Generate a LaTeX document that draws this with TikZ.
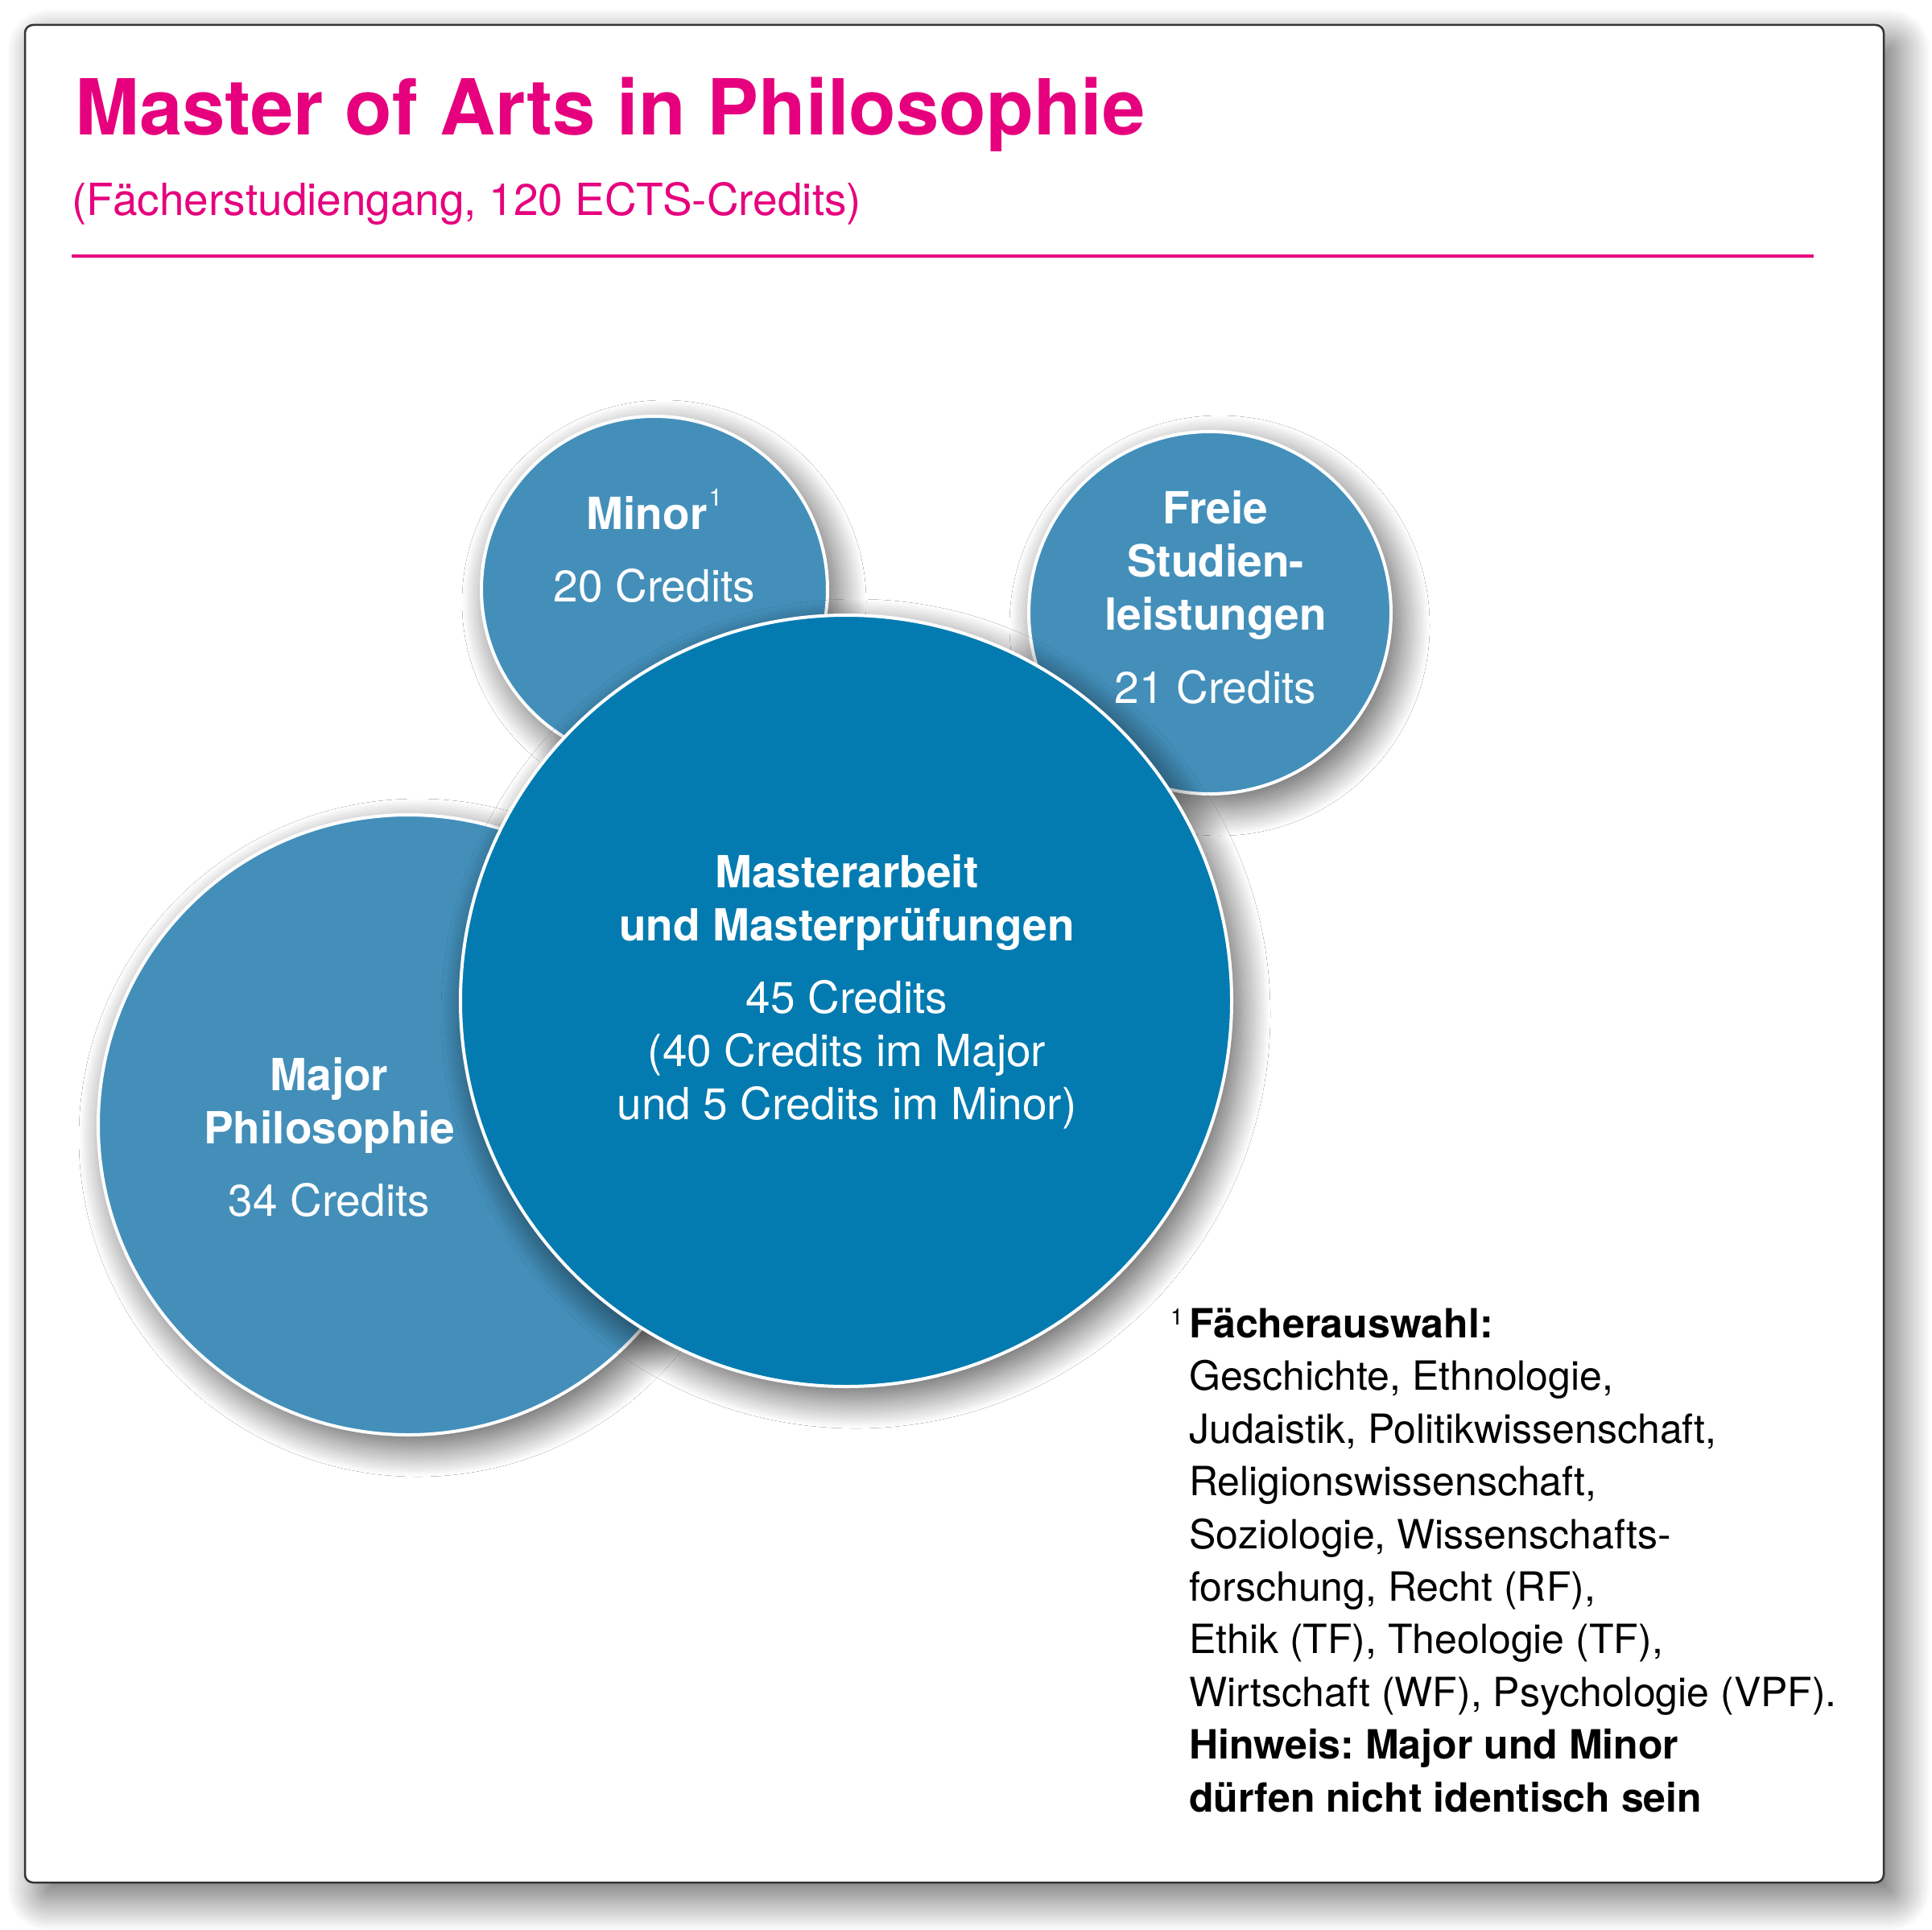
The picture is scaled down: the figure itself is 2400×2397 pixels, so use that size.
\documentclass[tikz,border=0pt]{standalone}
\usepackage{fontspec}
\setmainfont{TeX Gyre Heros}
\usepackage{tikz}
\usetikzlibrary{shadows.blur}
\definecolor{titlepink}{HTML}{E6007E}
\definecolor{bluelight}{HTML}{438FBA}
\definecolor{bluedark}{HTML}{037BB0}
\frenchspacing

\begin{document}
\begin{tikzpicture}[x=1pt, y=-1pt,
	bubble/.style={circle, draw=white, line width=4pt, inner sep=0pt,
		blur shadow={shadow xshift=12pt, shadow yshift=-16pt, shadow blur radius=36pt, shadow blur steps=40, shadow opacity=65}},
	boldtxt/.style={text=white, align=center, inner sep=0pt, anchor=base, font=\fontsize{55}{66}\selectfont\bfseries},
	credtxt/.style={text=white, align=center, inner sep=0pt, anchor=base, font=\fontsize{55}{66}\selectfont}]
				\useasboundingbox (0,0) rectangle (2400,2397);
				
				% frame
				\path (31,31) coordinate (tl) (2340,2338) coordinate (br);
				\draw[rounded corners=10pt, line width=2.5pt, draw=black!80, fill=white,
					blur shadow={shadow xshift=18pt, shadow yshift=-20pt, shadow blur radius=40pt, shadow blur steps=40, shadow opacity=60}] (tl) rectangle (br);
				
				% heading
				\path (93,168) node[anchor=base west, inner sep=0pt, text=titlepink, font=\fontsize{96}{100}\selectfont\bfseries] (title){Master of Arts in Philosophie}
				(89,268) node[anchor=base west, inner sep=0pt, text=titlepink, font=\fontsize{55}{66}\selectfont] (subtitle){(Fächerstudiengang, 120 ECTS-Credits)}
				(89,318) coordinate (rulel)
				(2253,318) coordinate (ruler);
				\draw[titlepink, line width=4pt] (rulel) -- (ruler);
				
				% circles
				\path (813,732) node[bubble, fill=bluelight, minimum size=430pt] (minor){}
				(1503,761) node[bubble, fill=bluelight, minimum size=450pt] (freie){}
				(507,1397) node[bubble, fill=bluelight, minimum size=770pt] (major){}
				(1051,1243) node[bubble, fill=bluedark, minimum size=958pt] (master){};
				
				\path (813,657) node[boldtxt] (minorname){Minor\kern2pt\raisebox{29pt}{\fontsize{30}{30}\selectfont\mdseries 1}}
				(813,747) node[credtxt] (minorcred){20 Credits}
				(1510,782) node[boldtxt] (freiename){Freie\\Studien-\\leistungen}
				(1510,873) node[credtxt] (freiecred){21 Credits}
				(409,1420) node[boldtxt] (majorname){Major\\Philosophie}
				(409,1510) node[credtxt] (majorcred){34 Credits}
				(1052,1168) node[boldtxt] (mastername){Masterarbeit\\und Masterprüfungen}
				(1052,1390) node[credtxt] (mastercred){45 Credits\\(40 Credits im Major\\und 5 Credits im Minor)};
				
				% footnote
				\path (1454,1645) node[anchor=base west, inner sep=0pt, font=\fontsize{28}{30}\selectfont] (fnmark){1}
				(1477,2250) node[anchor=base west, inner sep=0pt, align=left, font=\fontsize{50}{65.4}\selectfont] (fntext){\textbf{Fächerauswahl:}\\Geschichte, Ethnologie,\\Judaistik, Politikwissenschaft,\\Religionswissenschaft,\\Soziologie, Wissenschafts-\\forschung, Recht (RF),\\Ethik (TF), Theologie (TF),\\Wirtschaft (WF), Psychologie (VPF).\\\textbf{Hinweis: Major und Minor}\\\textbf{dürfen nicht identisch sein}};
			\end{tikzpicture}
\end{document}
